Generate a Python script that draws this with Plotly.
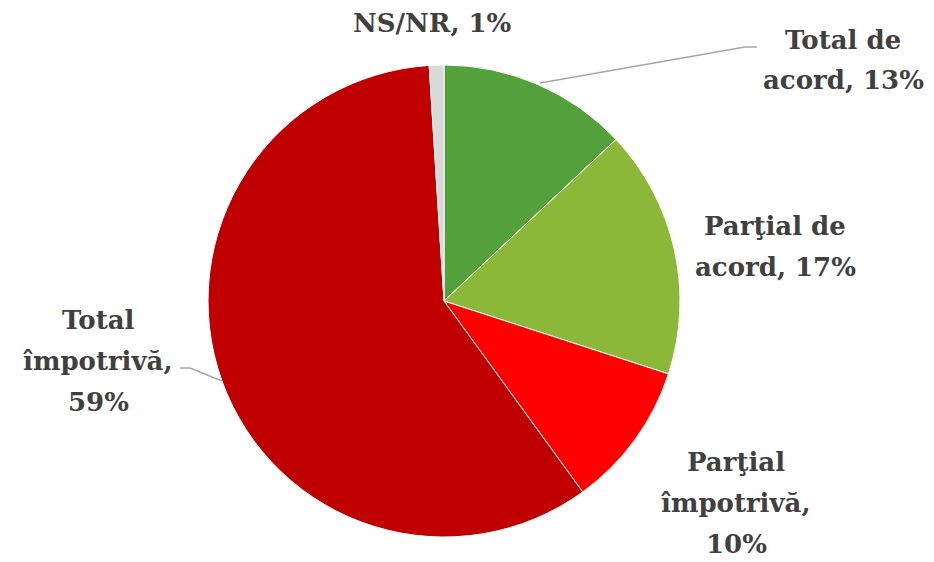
import plotly.graph_objects as go

categories = ["Total de acord", "Parţial de acord", "Parţial împotrivă", "Total împotrivă", "NS/NR"]
values = [13, 17, 10, 59, 1]
label_lines = [["Total de", "acord, 13%"], ["Parţial de", "acord, 17%"], ["Parţial", "împotrivă,", "10%"],
               ["Total", "împotrivă,", "59%"], ["NS/NR, 1%"]]
colors = ["#54A03A", "#8CB83A", "#FF0000", "#C00000", "#D9D9D9"]

W, H = 934, 562
OX, OY = 8, 8  # page body margin compensation
cx, cy, r = 444 - OX, 301 - OY, 236
LH = 41

fig = go.Figure(go.Pie(
    labels=categories, values=values, sort=False, direction="clockwise", rotation=0,
    marker=dict(colors=colors, line=dict(color="white", width=1)),
    textinfo="none", hoverinfo="label+percent", showlegend=False,
    domain=dict(x=[(cx - r) / W, (cx + r) / W], y=[1 - (cy + r) / H, 1 - (cy - r) / H]),
))

label_pos = [(843, 60), (775, 246), (736, 503), (98, 361), (432, 23)]
for lines, (px, py) in zip(label_lines, label_pos):
    n = len(lines)
    for i, ln in enumerate(lines):
        yy = py + (i - (n - 1) / 2) * LH
        fig.add_annotation(x=(px - OX) / W, y=1 - (yy - OY) / H, xref="paper", yref="paper",
                           text="<b>" + ln + "</b>", showarrow=False,
                           font=dict(family="DejaVu Serif", size=26, color="#404040"),
                           align="center", xanchor="center", yanchor="middle")

def seg(x0, y0, x1, y1):
    fig.add_shape(type="line", xref="paper", yref="paper",
                  x0=(x0 - OX) / W, y0=1 - (y0 - OY) / H, x1=(x1 - OX) / W, y1=1 - (y1 - OY) / H,
                  line=dict(color="#A6A6A6", width=1.5))

seg(540, 83, 745, 47)
seg(745, 47, 757, 47)
seg(180, 368, 190, 368)
seg(190, 368, 222, 381)

fig.update_layout(width=W, height=H, margin=dict(l=0, r=0, t=0, b=0),
                  paper_bgcolor="white", plot_bgcolor="white")
fig.write_html("out.html")
